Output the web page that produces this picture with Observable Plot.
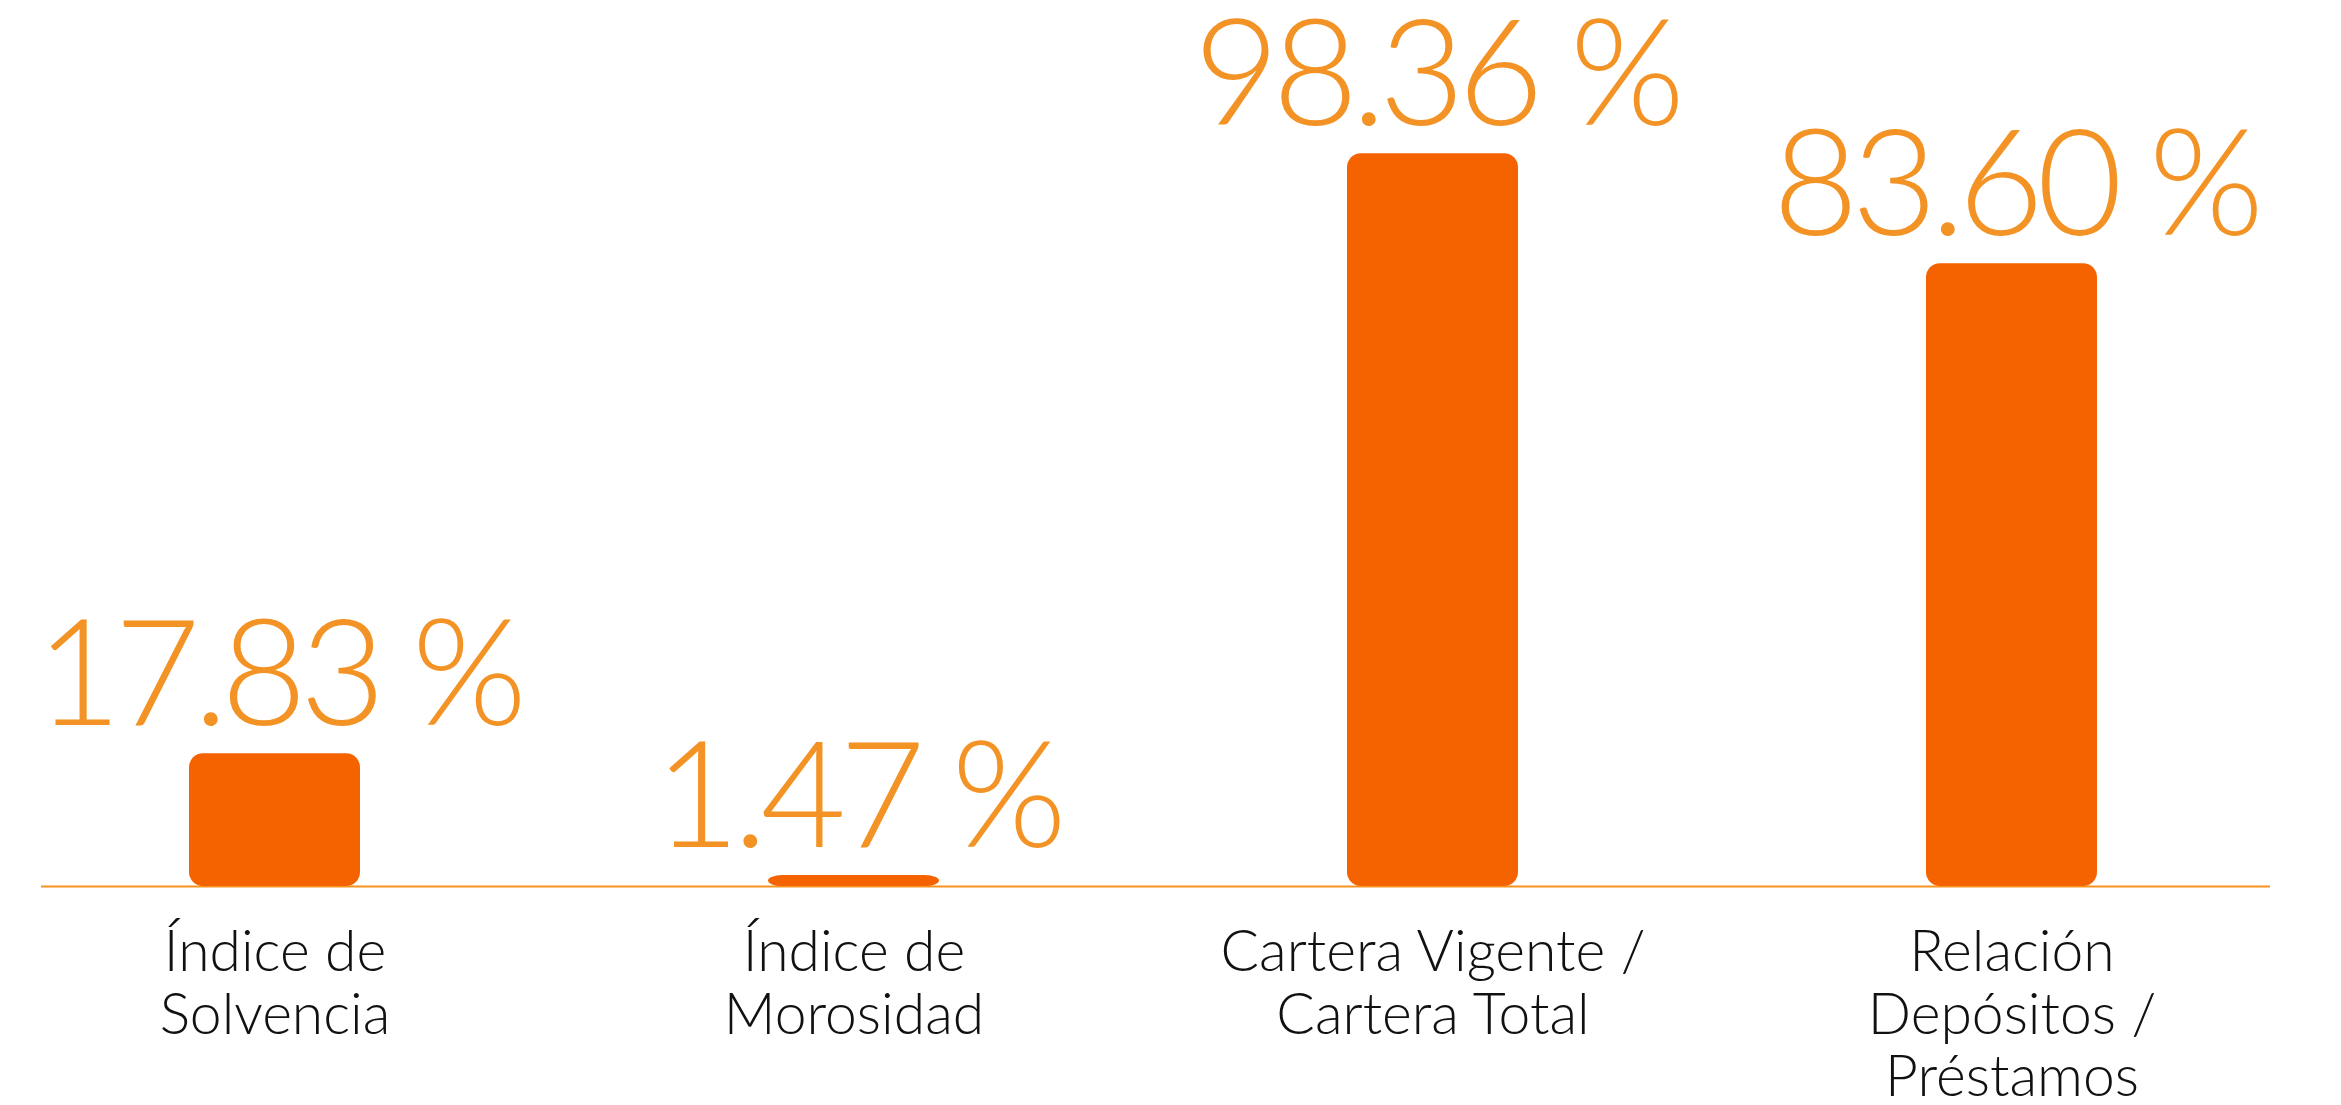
<!DOCTYPE html>
<html>
<head>
<meta charset="utf-8">
<script src="https://cdn.jsdelivr.net/npm/d3@7"></script>
<script src="https://cdn.jsdelivr.net/npm/@observablehq/plot@0.6"></script>
<style>
  html, body { margin: 0; padding: 0; background: #ffffff; }
  #chart svg { display: block; }
  #chart g[font-size="148"] text { letter-spacing: -7px; }
</style>
</head>
<body>
<div id="chart"></div>
<script>
const categories = [
  "Índice de\nSolvencia",
  "Índice de\nMorosidad",
  "Cartera Vigente /\nCartera Total",
  "Relación\nDepósitos /\nPréstamos"
];
const values = [17.83, 1.47, 98.36, 83.60];
const valueLabels = ["17.83 %", "1.47 %", "98.36 %", "83.60 %"];

const data = categories.map((c, i) => ({category: c, value: values[i], label: valueLabels[i]}));

const font = "Lato, 'Open Sans', sans-serif";

const chart = Plot.plot({
  width: 2341,
  height: 1105,
  marginLeft: 41,
  marginRight: 71,
  marginTop: 141,
  marginBottom: 219,
  style: {background: "#ffffff", fontFamily: font},
  x: {domain: categories, paddingInner: 0.705, paddingOuter: 0.277, align: 0.461, axis: null},
  y: {domain: [0, 100], axis: null},
  marks: [
    Plot.ruleY([0], {stroke: "#F7931E", strokeWidth: 2}),
    Plot.barY(data, {x: "category", y: "value", fill: "#F56200", rx: 14}),
    Plot.text(data, {
      x: "category", y: "value", text: "label",
      lineAnchor: "bottom", dy: -29, dx: 3,
      fill: "#F39325", fontSize: 148, fontWeight: 300, fontFamily: font
    }),
    Plot.text(data, {
      x: "category", y: () => 0, text: "category",
      lineAnchor: "top", dy: 40, lineHeight: 1.1,
      fill: "#111111", fontSize: 57, fontWeight: 300, fontFamily: font
    })
  ]
});
document.getElementById("chart").appendChild(chart);
</script>
</body>
</html>
